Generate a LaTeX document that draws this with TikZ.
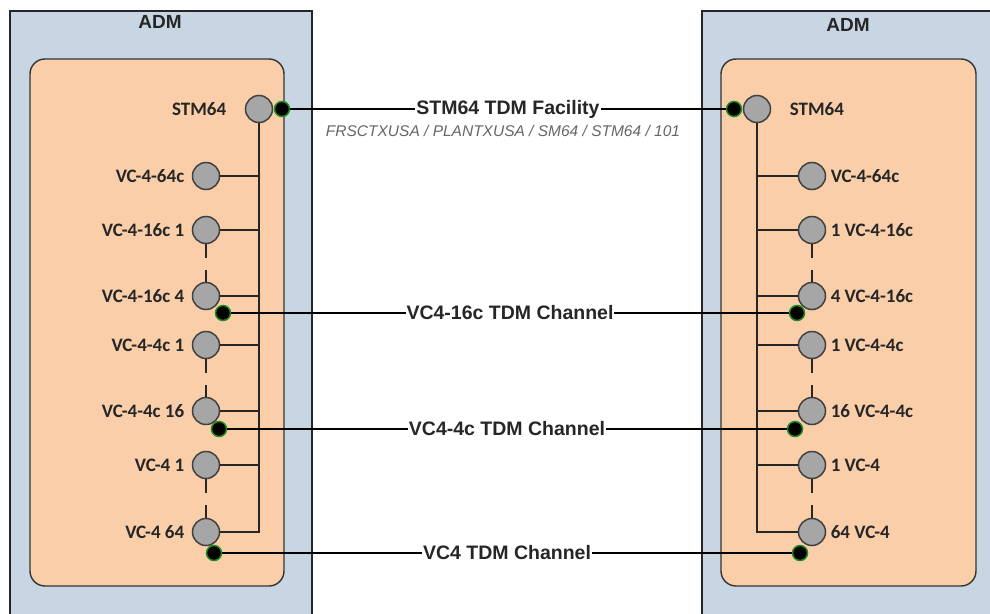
\documentclass[tikz,border=0pt]{standalone}
\usepackage{fontspec}
\setmainfont{Carlito}
\newfontfamily\arialfont{Liberation Sans}
\usepackage{tikz}
\usetikzlibrary{positioning,calc}
\usepackage{xcolor}
\definecolor{admblue}{HTML}{C8D5E3}
\definecolor{cardpeach}{HTML}{F9CEA9}
\definecolor{portgray}{HTML}{A6A6A6}
\definecolor{dotgreen}{HTML}{1E8C1E}

\begin{document}
\begin{tikzpicture}[x=1pt, y=-1pt,
  port/.style={circle, draw=black!75, fill=portgray, line width=1.5pt, minimum size=27pt, inner sep=0pt},
  tdmdot/.style={circle, draw=dotgreen, fill=black, line width=1.5pt, minimum size=15pt, inner sep=0pt},
  portlbl/.style={font=\fontsize{19}{22}\selectfont\bfseries, text=black!85},
  chan/.style={font=\arialfont\fontsize{19.5}{22}\selectfont\bfseries, fill=white, inner sep=1pt, text=black!85},
  bus/.style={line width=1.5pt, black!85},
  link/.style={line width=2.2pt}]
  \clip (0,0) rectangle (990,613);
  % ADM shelves
  \draw[fill=admblue, draw=black!85, line width=1.4pt] (10,11) rectangle (312,630);
  \draw[fill=admblue, draw=black!85, line width=1.4pt] (702,11) rectangle (1010,630);
  \node[font=\arialfont\bfseries\fontsize{19}{21}\selectfont, text=black!85] (ladm) at (160,22) {ADM};
  \node[font=\arialfont\bfseries\fontsize{19}{21}\selectfont, text=black!85] (radm) at (848,25) {ADM};
  % cards
  \draw[fill=cardpeach, draw=black!80, line width=1.4pt, rounded corners=15pt] (30,59) rectangle (284,586);
  \draw[fill=cardpeach, draw=black!80, line width=1.4pt, rounded corners=15pt] (721,59) rectangle (976,586);
  % ports
  \node[port, label={[portlbl, label distance=15pt]left:STM64}] (lp0) at (259,109) {};
  \node[port, label={[portlbl, label distance=15pt]right:STM64}] (rp0) at (757,109) {};
  \foreach \i/\y/\ltxt in {1/176/VC-4-64c, 2/230/VC-4-16c 1, 3/296/VC-4-16c 4, 4/345/VC-4-4c 1,
      5/411/VC-4-4c 16, 6/465/VC-4 1, 7/532/VC-4 64} {
    \node[port, label={[portlbl, label distance=4pt]left:\ltxt}] (lp\i) at (206,\y) {};
  }
  \foreach \i/\y/\rtxt in {1/176/VC-4-64c, 2/230/1 VC-4-16c, 3/296/4 VC-4-16c, 4/345/1 VC-4-4c,
      5/411/16 VC-4-4c, 6/465/1 VC-4, 7/532/64 VC-4} {
    \node[port, label={[portlbl, label distance=1pt]right:\rtxt}] (rp\i) at (812,\y) {};
  }
  % internal bus
  \draw[bus] (lp0) -- (lp0 |- lp7) -- (lp7);
  \draw[bus] (rp0) -- (rp0 |- rp7) -- (rp7);
  \foreach \i in {1,...,6} {
    \draw[bus] (lp\i) -- (lp\i -| lp0);
    \draw[bus] (rp\i) -- (rp\i -| rp0);
  }
  \foreach \a/\b in {2/3, 4/5, 6/7} {
    \draw[bus, dash pattern=on 14pt off 12pt] (lp\a) -- (lp\b);
    \draw[bus, dash pattern=on 14pt off 12pt] (rp\a) -- (rp\b);
  }
  % termination points
  \node[tdmdot] (ld0) at (282,109) {};
  \node[tdmdot] (ld3) at (223,313) {};
  \node[tdmdot] (ld5) at (219,429) {};
  \node[tdmdot] (ld7) at (214,553) {};
  \node[tdmdot] (rd0) at (734,109) {};
  \node[tdmdot] (rd3) at (797,313) {};
  \node[tdmdot] (rd5) at (795,429) {};
  \node[tdmdot] (rd7) at (800,553) {};
  % facility and channels
  \draw[link] (ld0) -- node[chan] (fac) {STM64 TDM Facility} (rd0);
  \node[font=\arialfont\itshape\fontsize{15.5}{18}\selectfont, text=black!60] (facid) at (503,131)
    {FRSCTXUSA / PLANTXUSA / SM64 / STM64 / 101};
  \draw[link] (ld3) -- node[chan] (ch16) {VC4-16c TDM Channel} (rd3);
  \draw[link] (ld5) -- node[chan] (ch4) {VC4-4c TDM Channel} (rd5);
  \draw[link] (ld7) -- node[chan] (ch1) {VC4 TDM Channel} (rd7);
\end{tikzpicture}
\end{document}
